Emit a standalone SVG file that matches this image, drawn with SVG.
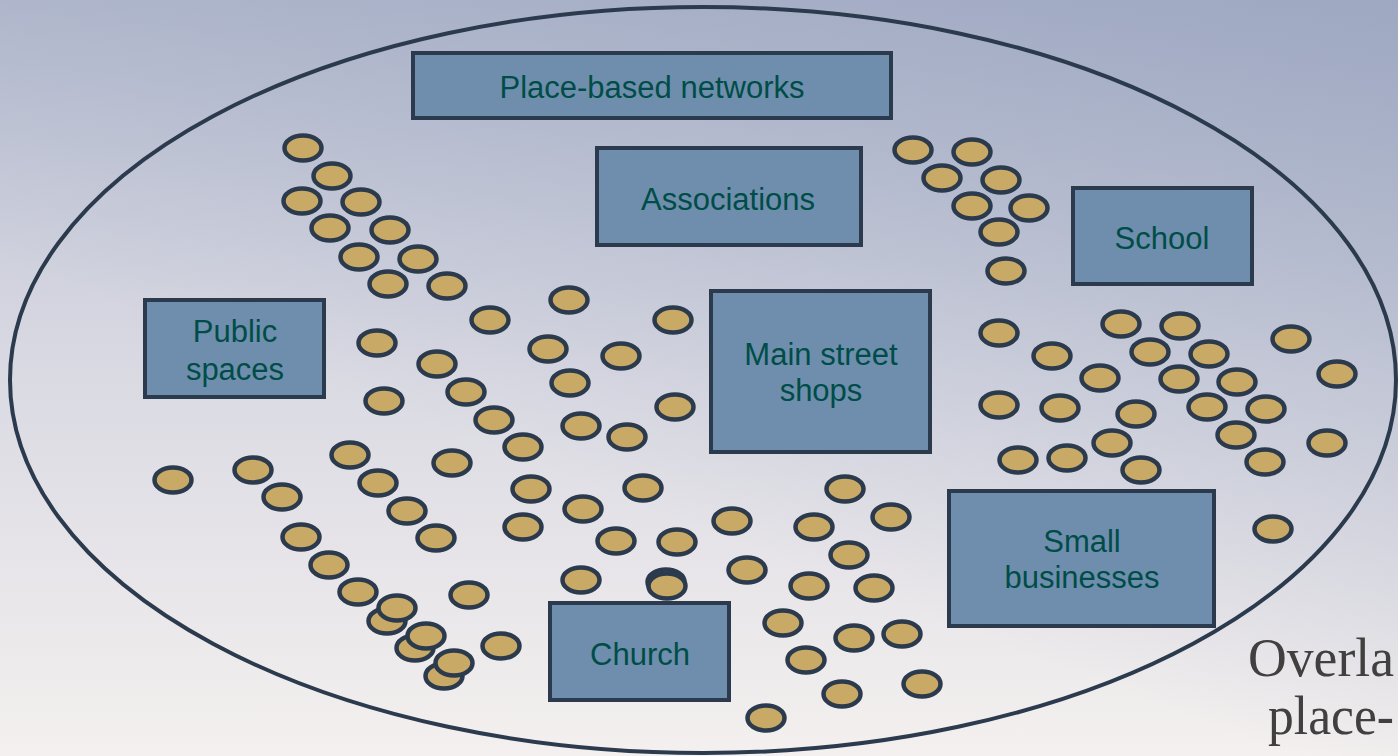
<svg xmlns="http://www.w3.org/2000/svg" width="1398" height="756" viewBox="0 0 1398 756">
<defs>
<linearGradient id="bgv" x1="0" y1="0" x2="0" y2="1">
<stop offset="0" stop-color="#B7BDD0"/>
<stop offset="0.5" stop-color="#DADAE3"/>
<stop offset="1" stop-color="#F4F0EF"/>
</linearGradient>
<linearGradient id="bgd" x1="1" y1="0" x2="0.5" y2="0.7">
<stop offset="0" stop-color="#8D9AB8" stop-opacity="0.6"/>
<stop offset="1" stop-color="#8D9AB8" stop-opacity="0"/>
</linearGradient>
<style>
.dot{fill:#C9A966;stroke:#2B3A4C;stroke-width:4.5}
.box{fill:#6F8EAE;stroke:#2B3A4C;stroke-width:4}
.lbl{font-family:"Liberation Sans",Arial,sans-serif;font-size:31px;fill:#004D47;text-anchor:middle}
.cap{font-family:"Liberation Serif","Times New Roman",serif;font-size:54px;fill:#404040}
</style>
</defs>
<rect x="0" y="0" width="1398" height="756" fill="url(#bgv)"/>
<rect x="0" y="0" width="1398" height="756" fill="url(#bgd)"/>
<g id="boundary">
<ellipse cx="703" cy="380" rx="693" ry="373" fill="none" stroke="#2B3A4C" stroke-width="4"/>
</g>
<g id="people">
<ellipse class="dot" cx="303" cy="148" rx="18.5" ry="12.5"/>
<ellipse class="dot" cx="332" cy="176" rx="18.5" ry="12.5"/>
<ellipse class="dot" cx="302" cy="201" rx="18.5" ry="12.5"/>
<ellipse class="dot" cx="361" cy="202" rx="18.5" ry="12.5"/>
<ellipse class="dot" cx="330" cy="228" rx="18.5" ry="12.5"/>
<ellipse class="dot" cx="390" cy="230" rx="18.5" ry="12.5"/>
<ellipse class="dot" cx="359" cy="257" rx="18.5" ry="12.5"/>
<ellipse class="dot" cx="418" cy="259" rx="18.5" ry="12.5"/>
<ellipse class="dot" cx="388" cy="284" rx="18.5" ry="12.5"/>
<ellipse class="dot" cx="447" cy="286" rx="18.5" ry="12.5"/>
<ellipse class="dot" cx="569" cy="300" rx="18.5" ry="12.5"/>
<ellipse class="dot" cx="490" cy="320" rx="18.5" ry="12.5"/>
<ellipse class="dot" cx="673" cy="320" rx="18.5" ry="12.5"/>
<ellipse class="dot" cx="377" cy="343" rx="18.5" ry="12.5"/>
<ellipse class="dot" cx="548" cy="349" rx="18.5" ry="12.5"/>
<ellipse class="dot" cx="621" cy="356" rx="18.5" ry="12.5"/>
<ellipse class="dot" cx="437" cy="364" rx="18.5" ry="12.5"/>
<ellipse class="dot" cx="570" cy="383" rx="18.5" ry="12.5"/>
<ellipse class="dot" cx="466" cy="392" rx="18.5" ry="12.5"/>
<ellipse class="dot" cx="384" cy="401" rx="18.5" ry="12.5"/>
<ellipse class="dot" cx="675" cy="407" rx="18.5" ry="12.5"/>
<ellipse class="dot" cx="494" cy="420" rx="18.5" ry="12.5"/>
<ellipse class="dot" cx="581" cy="426" rx="18.5" ry="12.5"/>
<ellipse class="dot" cx="627" cy="437" rx="18.5" ry="12.5"/>
<ellipse class="dot" cx="523" cy="447" rx="18.5" ry="12.5"/>
<ellipse class="dot" cx="350" cy="455" rx="18.5" ry="12.5"/>
<ellipse class="dot" cx="452" cy="463" rx="18.5" ry="12.5"/>
<ellipse class="dot" cx="378" cy="483" rx="18.5" ry="12.5"/>
<ellipse class="dot" cx="531" cy="489" rx="18.5" ry="12.5"/>
<ellipse class="dot" cx="643" cy="488" rx="18.5" ry="12.5"/>
<ellipse class="dot" cx="407" cy="511" rx="18.5" ry="12.5"/>
<ellipse class="dot" cx="583" cy="509" rx="18.5" ry="12.5"/>
<ellipse class="dot" cx="173" cy="480" rx="18.5" ry="12.5"/>
<ellipse class="dot" cx="253" cy="470" rx="18.5" ry="12.5"/>
<ellipse class="dot" cx="282" cy="497" rx="18.5" ry="12.5"/>
<ellipse class="dot" cx="436" cy="538" rx="18.5" ry="12.5"/>
<ellipse class="dot" cx="523" cy="527" rx="18.5" ry="12.5"/>
<ellipse class="dot" cx="616" cy="541" rx="18.5" ry="12.5"/>
<ellipse class="dot" cx="677" cy="542" rx="18.5" ry="12.5"/>
<ellipse class="dot" cx="301" cy="537" rx="18.5" ry="12.5"/>
<ellipse class="dot" cx="329" cy="565" rx="18.5" ry="12.5"/>
<ellipse class="dot" cx="358" cy="592" rx="18.5" ry="12.5"/>
<ellipse class="dot" cx="581" cy="580" rx="18.5" ry="12.5"/>
<ellipse class="dot" cx="666" cy="582" rx="18.5" ry="12.5"/>
<ellipse class="dot" cx="667" cy="586" rx="18.5" ry="12.5"/>
<ellipse class="dot" cx="469" cy="595" rx="18.5" ry="12.5"/>
<ellipse class="dot" cx="387" cy="621" rx="18.5" ry="12.5"/>
<ellipse class="dot" cx="397" cy="608" rx="18.5" ry="12.5"/>
<ellipse class="dot" cx="415" cy="648" rx="18.5" ry="12.5"/>
<ellipse class="dot" cx="426" cy="636" rx="18.5" ry="12.5"/>
<ellipse class="dot" cx="444" cy="676" rx="18.5" ry="12.5"/>
<ellipse class="dot" cx="454" cy="663" rx="18.5" ry="12.5"/>
<ellipse class="dot" cx="501" cy="646" rx="18.5" ry="12.5"/>
<ellipse class="dot" cx="732" cy="521" rx="18.5" ry="12.5"/>
<ellipse class="dot" cx="814" cy="527" rx="18.5" ry="12.5"/>
<ellipse class="dot" cx="891" cy="517" rx="18.5" ry="12.5"/>
<ellipse class="dot" cx="849" cy="555" rx="18.5" ry="12.5"/>
<ellipse class="dot" cx="747" cy="570" rx="18.5" ry="12.5"/>
<ellipse class="dot" cx="809" cy="586" rx="18.5" ry="12.5"/>
<ellipse class="dot" cx="874" cy="588" rx="18.5" ry="12.5"/>
<ellipse class="dot" cx="783" cy="623" rx="18.5" ry="12.5"/>
<ellipse class="dot" cx="854" cy="638" rx="18.5" ry="12.5"/>
<ellipse class="dot" cx="902" cy="634" rx="18.5" ry="12.5"/>
<ellipse class="dot" cx="806" cy="660" rx="18.5" ry="12.5"/>
<ellipse class="dot" cx="842" cy="694" rx="18.5" ry="12.5"/>
<ellipse class="dot" cx="922" cy="684" rx="18.5" ry="12.5"/>
<ellipse class="dot" cx="766" cy="718" rx="18.5" ry="12.5"/>
<ellipse class="dot" cx="845" cy="489" rx="18.5" ry="12.5"/>
<ellipse class="dot" cx="913" cy="150" rx="18.5" ry="12.5"/>
<ellipse class="dot" cx="972" cy="152" rx="18.5" ry="12.5"/>
<ellipse class="dot" cx="942" cy="178" rx="18.5" ry="12.5"/>
<ellipse class="dot" cx="1001" cy="180" rx="18.5" ry="12.5"/>
<ellipse class="dot" cx="972" cy="206" rx="18.5" ry="12.5"/>
<ellipse class="dot" cx="1029" cy="208" rx="18.5" ry="12.5"/>
<ellipse class="dot" cx="999" cy="232" rx="18.5" ry="12.5"/>
<ellipse class="dot" cx="1006" cy="271" rx="18.5" ry="12.5"/>
<ellipse class="dot" cx="999" cy="333" rx="18.5" ry="12.5"/>
<ellipse class="dot" cx="1052" cy="356" rx="18.5" ry="12.5"/>
<ellipse class="dot" cx="999" cy="405" rx="18.5" ry="12.5"/>
<ellipse class="dot" cx="1060" cy="408" rx="18.5" ry="12.5"/>
<ellipse class="dot" cx="1018" cy="460" rx="18.5" ry="12.5"/>
<ellipse class="dot" cx="1067" cy="458" rx="18.5" ry="12.5"/>
<ellipse class="dot" cx="1121" cy="324" rx="18.5" ry="12.5"/>
<ellipse class="dot" cx="1180" cy="326" rx="18.5" ry="12.5"/>
<ellipse class="dot" cx="1150" cy="352" rx="18.5" ry="12.5"/>
<ellipse class="dot" cx="1209" cy="354" rx="18.5" ry="12.5"/>
<ellipse class="dot" cx="1291" cy="339" rx="18.5" ry="12.5"/>
<ellipse class="dot" cx="1100" cy="378" rx="18.5" ry="12.5"/>
<ellipse class="dot" cx="1179" cy="379" rx="18.5" ry="12.5"/>
<ellipse class="dot" cx="1237" cy="382" rx="18.5" ry="12.5"/>
<ellipse class="dot" cx="1337" cy="374" rx="18.5" ry="12.5"/>
<ellipse class="dot" cx="1136" cy="414" rx="18.5" ry="12.5"/>
<ellipse class="dot" cx="1207" cy="407" rx="18.5" ry="12.5"/>
<ellipse class="dot" cx="1266" cy="409" rx="18.5" ry="12.5"/>
<ellipse class="dot" cx="1112" cy="443" rx="18.5" ry="12.5"/>
<ellipse class="dot" cx="1236" cy="435" rx="18.5" ry="12.5"/>
<ellipse class="dot" cx="1327" cy="443" rx="18.5" ry="12.5"/>
<ellipse class="dot" cx="1141" cy="470" rx="18.5" ry="12.5"/>
<ellipse class="dot" cx="1265" cy="462" rx="18.5" ry="12.5"/>
<ellipse class="dot" cx="1273" cy="529" rx="18.5" ry="12.5"/>
</g>
<g id="place-based-networks">
<rect class="box" x="413" y="53" width="478" height="65"/>
<text class="lbl" x="652" y="98">Place-based networks</text>
</g>
<g id="associations">
<rect class="box" x="597" y="148" width="264" height="97"/>
<text class="lbl" x="728" y="210">Associations</text>
</g>
<g id="school">
<rect class="box" x="1073" y="188" width="179" height="96"/>
<text class="lbl" x="1162" y="249">School</text>
</g>
<g id="public-spaces">
<rect class="box" x="145" y="300" width="179" height="97"/>
<text class="lbl" x="235" y="342">Public</text>
<text class="lbl" x="235" y="380">spaces</text>
</g>
<g id="main-street-shops">
<rect class="box" x="711" y="291" width="219" height="161"/>
<text class="lbl" x="821" y="365">Main street</text>
<text class="lbl" x="821" y="401">shops</text>
</g>
<g id="small-businesses">
<rect class="box" x="949" y="491" width="265" height="135"/>
<text class="lbl" x="1082" y="552">Small</text>
<text class="lbl" x="1082" y="588">businesses</text>
</g>
<g id="church">
<rect class="box" x="550" y="603" width="179" height="97"/>
<text class="lbl" x="640" y="665">Church</text>
</g>
<g id="caption">
<text class="cap" x="1248" y="676" textLength="146" lengthAdjust="spacingAndGlyphs">Overla</text>
<text class="cap" x="1268" y="734" textLength="126" lengthAdjust="spacingAndGlyphs">place-</text>
</g>
</svg>
